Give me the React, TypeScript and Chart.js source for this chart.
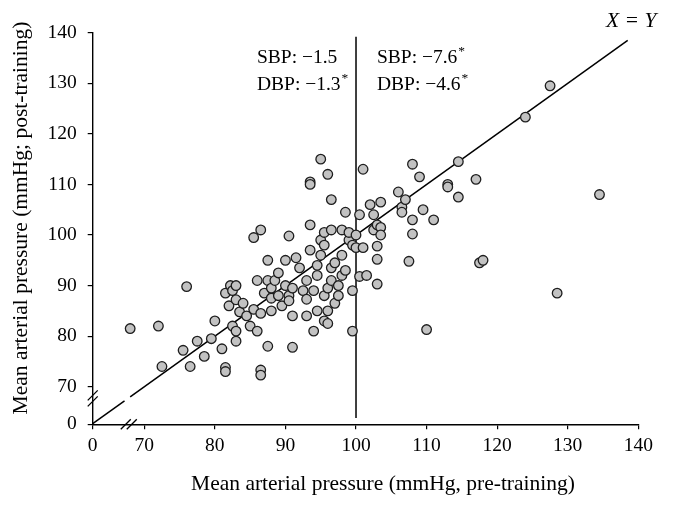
import { useEffect, useRef } from "react";
import { Chart, registerables } from "chart.js";

Chart.register(...registerables);

// Axis break positions (value shown as "0" at the broken origin)
const X_BREAK = 62.69;
const Y_BREAK = 62.57;
const X_MAX = 140;
const Y_MAX = 140;
const xTickValues = [70, 80, 90, 100, 110, 120, 130, 140];
const yTickValues = [70, 80, 90, 100, 110, 120, 130, 140];

// Pre-training (x) and post-training (y) mean arterial pressure
const preTraining = [
  68, 72, 72.5, 75.5, 76, 76.5, 77.5, 78.5, 79.5, 80, 81, 81.5, 81.5, 81.5, 82, 82.2, 82.5, 82.5, 83, 83,
  83.5, 83, 83, 84, 84.5, 85, 85.5, 85.5, 86, 86, 86.5, 86.5, 86.5, 86.5, 87, 87.5, 87.5, 87.5, 88, 88,
  88, 88.5, 89, 89, 89.5, 90, 90, 90.5, 90.5, 90.5, 91, 91, 91, 91.5, 92, 92.5, 93, 93, 93, 93.5,
  93.5, 93.5, 93.5, 94, 94, 94.5, 94.5, 94.5, 95, 95, 95, 95.5, 95.5, 95.5, 95.5, 96, 96, 96, 96, 96.5,
  96.5, 96.5, 96.5, 97, 97, 97.5, 97.5, 98, 98, 98, 98.5, 98.5, 99, 99, 99.5, 99.5, 99.5, 100, 100, 100.5,
  100.5, 101, 101, 101.5, 102, 102.5, 102.5, 103, 103, 103, 103, 103.5, 103.5, 103.5, 106, 106.5, 106.5, 107, 107.5, 108,
  108, 108, 109, 109.5, 110, 111, 113, 113, 114.5, 114.5, 117, 117.5, 118, 124, 127.5, 128.5, 134.5,
];
const postTraining = [
  81.5, 82, 74, 77.2, 89.8, 74, 79, 76, 79.5, 83, 77.5, 88.5, 73.8, 73, 86, 90, 82, 89, 90, 87.2,
  84.8, 79, 81, 86.5, 84, 82, 99.5, 85.3, 81, 91, 101, 84.5, 73.3, 72.3, 88.5, 91, 95, 78, 87.5, 85,
  89.5, 91, 92.5, 88, 86, 95, 90, 88, 87, 99.8, 84, 77.8, 89.5, 95.5, 93.5, 89, 84, 87.3, 91, 102,
  97, 110.5, 110, 89, 81, 92, 94, 85, 115, 99, 96, 98, 100.5, 88, 83, 82.5, 85, 89.5, 112, 107,
  101, 93.5, 91, 94.5, 86.5, 88, 90, 101, 96, 92, 93, 104.5, 99, 100.5, 81, 89, 98, 100, 97.5, 104,
  91.8, 113, 97.5, 92, 106, 104, 101, 102, 97.8, 95.2, 90.3, 101.5, 100, 106.5, 108.5, 105.5, 104.5, 107, 94.8, 114,
  103, 100.2, 111.5, 105, 81.3, 103, 110, 109.5, 114.5, 107.5, 111, 94.5, 95, 123.3, 129.5, 88.5, 108,
];

// Reference lines
const identityLowX = [X_BREAK, 67.2];
const identityHighX = [68.0, 138.5];
const cutoffX = [100, 100];
const cutoffY = [63.8, 139.2];

const SERIF = "'Liberation Serif', 'Times New Roman', serif";

const overlayPlugin = {
  id: "overlay",
  afterDraw(chart: any) {
    const ctx = chart.ctx as CanvasRenderingContext2D;
    const xs = chart.scales.x;
    const ys = chart.scales.y;
    ctx.save();
    ctx.fillStyle = "#000";
    ctx.strokeStyle = "#000";

    // axis titles
    ctx.font = `21.5px ${SERIF}`;
    ctx.textAlign = "center";
    ctx.textBaseline = "alphabetic";
    ctx.fillText("Mean arterial pressure (mmHg, pre-training)", 383, 490);
    ctx.save();
    ctx.translate(27, 218);
    ctx.rotate(-Math.PI / 2);
    ctx.fillText("Mean arterial pressure (mmHg; post-training)", 0, 0);
    ctx.restore();

    // annotations
    const drawAnn = (x: number, y: number, text: string, star: boolean) => {
      ctx.font = `19.5px ${SERIF}`;
      ctx.textAlign = "left";
      ctx.fillText(text, x, y);
      if (star) {
        const w = ctx.measureText(text).width;
        ctx.font = `13.5px ${SERIF}`;
        ctx.fillText("*", x + w + 1, y - 8);
      }
    };
    drawAnn(257, 63, "SBP: \u22121.5", false);
    drawAnn(257, 90, "DBP: \u22121.3", true);
    drawAnn(377, 63, "SBP: \u22127.6", true);
    drawAnn(377, 90, "DBP: \u22124.6", true);

    ctx.font = `italic 21.5px ${SERIF}`;
    ctx.textAlign = "left";
    ctx.fillText("X = Y", 606, 27);

    // axis break marks
    ctx.lineWidth = 1.3;
    const yb = ys.getPixelForValue(67.7);
    const x0 = xs.left;
    for (const d of [-3, 3]) {
      ctx.beginPath();
      ctx.moveTo(x0 - 5, yb + d + 5);
      ctx.lineTo(x0 + 5, yb + d - 5);
      ctx.stroke();
    }
    const xb = xs.getPixelForValue(67.8);
    const y0 = ys.bottom;
    for (const d of [-3, 3]) {
      ctx.beginPath();
      ctx.moveTo(xb + d - 5, y0 + 5);
      ctx.lineTo(xb + d + 5, y0 - 5);
      ctx.stroke();
    }
    ctx.restore();
  },
};

export default function App() {
  const ref = useRef<HTMLCanvasElement | null>(null);
  useEffect(() => {
    if (!ref.current) return;
    const points = preTraining.map((x, i) => ({ x, y: postTraining[i] }));
    const chart = new Chart(ref.current, {
      type: "scatter",
      data: {
        datasets: [
          {
            type: "line",
            data: identityLowX.map((v) => ({ x: v, y: v })),
            borderColor: "#000",
            borderWidth: 1.5,
            pointRadius: 0,
            order: 2,
          } as any,
          {
            type: "line",
            data: identityHighX.map((v) => ({ x: v, y: v })),
            borderColor: "#000",
            borderWidth: 1.5,
            pointRadius: 0,
            order: 2,
          } as any,
          {
            type: "line",
            data: cutoffX.map((v, i) => ({ x: v, y: cutoffY[i] })),
            borderColor: "#000",
            borderWidth: 1.5,
            pointRadius: 0,
            order: 2,
          } as any,
          {
            data: points,
            backgroundColor: "#c2c2c2",
            borderColor: "#1e1e1e",
            borderWidth: 1.3,
            pointRadius: 4.8,
            order: 1,
          },
        ],
      },
      options: {
        responsive: false,
        animation: false,
        layout: { padding: { top: 32.7, right: 36.7, left: 0, bottom: 0 } },
        plugins: { legend: { display: false }, tooltip: { enabled: false } },
        scales: {
          x: {
            type: "linear",
            min: X_BREAK,
            max: X_MAX,
            afterBuildTicks: (s: any) => {
              s.ticks = [X_BREAK, ...xTickValues].map((v) => ({ value: v }));
            },
            afterFit: (s: any) => {
              s.height = 82.7;
            },
            ticks: {
              autoSkip: false,
              maxRotation: 0,
              color: "#000",
              padding: 5,
              font: { family: SERIF, size: 19.5 },
              callback: (v: any) => (Math.abs(v - X_BREAK) < 0.01 ? "0" : String(v)),
            },
            grid: { drawOnChartArea: false, color: "#000", tickLength: 5, lineWidth: 1.2 },
            border: { display: true, color: "#000", width: 1.4 },
          },
          y: {
            type: "linear",
            min: Y_BREAK,
            max: Y_MAX,
            afterBuildTicks: (s: any) => {
              s.ticks = [Y_BREAK, ...yTickValues].map((v) => ({ value: v }));
            },
            afterFit: (s: any) => {
              s.width = 92.7;
            },
            ticks: {
              autoSkip: false,
              color: "#000",
              padding: 11,
              font: { family: SERIF, size: 19.5 },
              callback: (v: any) => (Math.abs(v - Y_BREAK) < 0.01 ? "0" : String(v)),
            },
            grid: { drawOnChartArea: false, color: "#000", tickLength: 5, lineWidth: 1.2 },
            border: { display: true, color: "#000", width: 1.4 },
          },
        },
      },
      plugins: [overlayPlugin],
    });
    return () => chart.destroy();
  }, []);
  return (
    <div style={{ position: "absolute", left: 0, top: 0, width: 675, height: 507, background: "#fff" }}>
      <canvas ref={ref} width={675} height={507} style={{ display: "block" }} />
    </div>
  );
}
